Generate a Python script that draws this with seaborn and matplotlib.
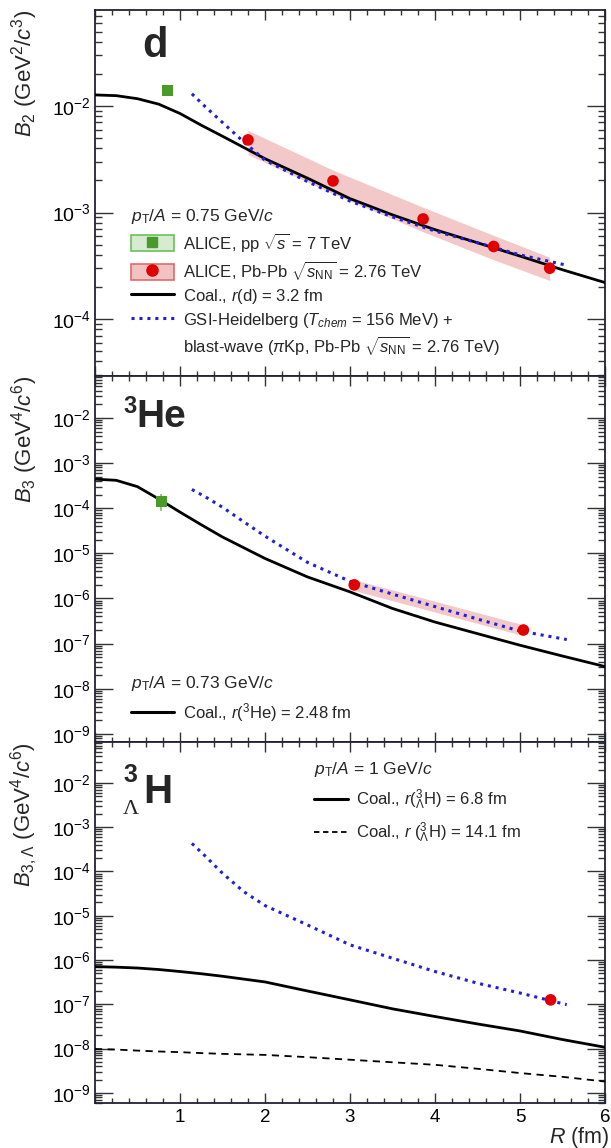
import numpy as np
import pandas as pd
import seaborn as sns
import matplotlib
matplotlib.use('Agg')
import matplotlib.pyplot as plt
from matplotlib.lines import Line2D
from matplotlib.patches import Patch
from matplotlib.ticker import (FixedLocator, MultipleLocator, NullFormatter,
                               LogFormatterSciNotation, FuncFormatter)

# ---- data ----
R_grid = [0, 0.25, 0.5, 0.75, 1.0, 1.25, 1.5, 2.0, 2.5, 3.0, 3.5, 4.0, 4.5, 5.0, 5.5, 6.0]
b2_coal = [1.27e-2, 1.25e-2, 1.17e-2, 1.04e-2, 8.5e-3, 6.6e-3, 5.2e-3, 3.2e-3, 2.1e-3,
           1.35e-3, 9.5e-4, 6.9e-4, 5.2e-4, 3.9e-4, 2.9e-4, 2.2e-4]
b3_coal = [4.4e-4, 4.15e-4, 3.0e-4, 1.6e-4, 8.2e-5, 4.3e-5, 2.3e-5, 7.7e-6, 3.0e-6,
           1.4e-6, 6.0e-7, 3.0e-7, 1.66e-7, 9.2e-8, 5.3e-8, 3.1e-8]
b3l_coal_68 = [7.1e-7, 6.9e-7, 6.6e-7, 6.1e-7, 5.5e-7, 4.9e-7, 4.3e-7, 3.2e-7, 2.0e-7,
               1.26e-7, 7.9e-8, 5.3e-8, 3.6e-8, 2.5e-8, 1.6e-8, 1.07e-8]
b3l_coal_141 = [9.8e-9, 9.5e-9, 9.0e-9, 8.6e-9, 8.3e-9, 7.9e-9, 7.6e-9, 7.2e-9, 6.4e-9,
                5.6e-9, 4.9e-9, 4.3e-9, 3.5e-9, 2.8e-9, 2.3e-9, 1.8e-9]

R_gsi = [1.14, 1.3, 1.5, 1.75, 2.0, 2.5, 3.0, 3.5, 4.0, 4.5, 5.0, 5.55]
b2_gsi = [1.3e-2, 9.8e-3, 7.0e-3, 4.6e-3, 3.1e-3, 1.95e-3, 1.28e-3, 9.1e-4, 6.7e-4, 5.2e-4, 4.0e-4, 3.2e-4]
b3_gsi = [2.6e-4, 1.78e-4, 1.05e-4, 5.0e-5, 2.4e-5, 6.3e-6, 2.4e-6, 1.25e-6, 6.6e-7, 3.5e-7, 1.9e-7, 1.23e-7]
b3l_gsi = [4.3e-4, 2.2e-4, 9.1e-5, 3.5e-5, 1.7e-5, 6.2e-6, 2.2e-6, 1.1e-6, 5.5e-7, 3.0e-7, 1.8e-7, 9.8e-8]

d_pp_R = [0.85]
d_pp_B = [1.4e-2]
d_pb_R = [1.80, 2.80, 3.86, 4.69, 5.35]
d_pb_B = [4.8e-3, 1.98e-3, 8.7e-4, 4.8e-4, 3.0e-4]
d_pb_up = [5.9e-3, 2.5e-3, 1.12e-3, 6.1e-4, 3.8e-4]
d_pb_lo = [3.5e-3, 1.5e-3, 6.6e-4, 3.6e-4, 2.3e-4]

he_pp_R = [0.78]
he_pp_B = [1.4e-4]
he_pp_lo = [8.5e-5]
he_pp_hi = [2.1e-4]
he_pb_R = [3.05, 5.04]
he_pb_B = [2.0e-6, 2.0e-7]
he_pb_up = [2.6e-6, 2.6e-7]
he_pb_lo = [1.5e-6, 1.5e-7]

hl_pb_R = [5.36]
hl_pb_B = [1.26e-7]
hl_pb_lo = [1.0e-7]
hl_pb_hi = [1.6e-7]

RED = '#e00000'
GREEN = '#4a9a2a'
BLUE = '#1f1fd8'
PINK = '#f2c2c2'

sns.set_theme(style='ticks')
plt.rcParams['font.family'] = ['Liberation Sans', 'DejaVu Sans']
plt.rcParams['mathtext.fontset'] = 'custom'
plt.rcParams['mathtext.rm'] = 'Liberation Sans'
plt.rcParams['mathtext.it'] = 'Liberation Sans:italic'
plt.rcParams['mathtext.bf'] = 'Liberation Sans:bold'

fig = plt.figure(figsize=(6.11, 11.48), dpi=100)
W, H = 611, 1148
x0, x1 = 95, 605
panels = [(10, 376), (376, 742), (742, 1103)]
axes = []
for top, bot in panels:
    axes.append(fig.add_axes([x0 / W, (H - bot) / H, (x1 - x0) / W, (bot - top) / H]))
ylims = [(2.92e-5, 0.0796), (6.6e-10, 0.085), (5.9e-10, 0.084)]

for i, ax in enumerate(axes):
    lo, hi = ylims[i]
    ax.set_yscale('log')
    ax.set_xlim(0, 6)
    ax.set_ylim(lo, hi)
    # only ticks inside the visible range
    decades = range(int(np.floor(np.log10(lo))), int(np.ceil(np.log10(hi))) + 1)
    major = [10.0 ** k for k in decades if lo <= 10.0 ** k <= hi]
    minor = [m * 10.0 ** k for k in decades for m in range(2, 10) if lo <= m * 10.0 ** k <= hi]
    ax.yaxis.set_major_locator(FixedLocator(major))
    ax.yaxis.set_minor_locator(FixedLocator(minor))
    ax.yaxis.set_major_formatter(LogFormatterSciNotation())
    ax.yaxis.set_minor_formatter(NullFormatter())
    ax.xaxis.set_major_locator(MultipleLocator(1))
    ax.xaxis.set_minor_locator(MultipleLocator(0.2))
    ax.xaxis.set_major_formatter(FuncFormatter(lambda v, _: '' if abs(v) < 1e-9 else f'{v:g}'))
    ax.tick_params(which='both', direction='in', top=True, right=True, width=1.0, colors='#333333',
                   labelcolor='black')
    ax.tick_params(axis='y', which='major', length=13, labelsize=14, pad=3)
    ax.tick_params(axis='y', which='minor', length=5)
    ax.tick_params(axis='x', which='major', length=7.5, labelsize=13.5, pad=4)
    ax.tick_params(axis='x', which='minor', length=3.6)
    for sp in ax.spines.values():
        sp.set_linewidth(1.3)
        sp.set_color('#222233')
    if i < 2:
        ax.tick_params(axis='x', labelbottom=False)

def curve(ax, R, B, **kw):
    df = pd.DataFrame({'R': R, 'B': B})
    sns.lineplot(data=df, x='R', y='B', ax=ax, legend=False, **kw)

dot_ls = (0, (1, 1.6))

# ---- deuteron ----
ax = axes[0]
ax.fill_between(d_pb_R, d_pb_lo, d_pb_up, color=PINK, lw=0, alpha=0.9, zorder=1)
curve(ax, R_grid, b2_coal, color='black', lw=2.0, zorder=3)
curve(ax, R_gsi, b2_gsi, color=BLUE, lw=2.2, ls=dot_ls, zorder=4)
sns.scatterplot(data=pd.DataFrame({'R': d_pp_R, 'B': d_pp_B}), x='R', y='B', ax=ax,
                marker='s', s=60, color=GREEN, edgecolor='none', zorder=5)
sns.scatterplot(data=pd.DataFrame({'R': d_pb_R, 'B': d_pb_B}), x='R', y='B', ax=ax,
                marker='o', s=70, color=RED, edgecolor='none', zorder=5)
ax.text(0.092, 0.872, 'd', transform=ax.transAxes, fontsize=30, fontweight='bold', ha='left', va='baseline')
h_pp = (Patch(facecolor='#d6ecd0', edgecolor='#6cbf5a', lw=1.2),
        Line2D([], [], marker='s', ms=7.5, color=GREEN, ls='none'))
h_pb = (Patch(facecolor=PINK, edgecolor='#e06a6a', lw=1.2),
        Line2D([], [], marker='o', ms=8, color=RED, ls='none'))
h_coal = Line2D([], [], color='black', lw=2.2)
h_gsi = Line2D([], [], color=BLUE, lw=2.2, ls=dot_ls)
h_none = Line2D([], [], ls='none')
ax.legend([h_pp, h_pb, h_coal, h_gsi, h_none],
          [r'ALICE, pp $\sqrt{s}$ = 7 TeV',
           r'ALICE, Pb-Pb $\sqrt{s_{\rm NN}}$ = 2.76 TeV',
           r'Coal., $r$(d) = 3.2 fm',
           r'GSI-Heidelberg ($T_{chem}$ = 156 MeV) +',
           r'blast-wave ($\pi$Kp, Pb-Pb $\sqrt{s_{\rm NN}}$ = 2.76 TeV)'],
          title=r'$p_{\rm T}/A$ = 0.75 GeV/$c$', title_fontsize=12.5, alignment='left',
          loc='upper left', bbox_to_anchor=(0.07, 0.462), frameon=False, fontsize=12,
          handlelength=2.6, handleheight=1.1, handletextpad=0.55, labelspacing=0.3,
          borderpad=0, borderaxespad=0)
ax.set_ylabel(r'$B_2$ (GeV$^2$/$c^3$)', fontsize=16, loc='top')

# ---- 3He ----
ax = axes[1]
ax.fill_between(he_pb_R, he_pb_lo, he_pb_up, color=PINK, lw=0, alpha=0.9, zorder=1)
curve(ax, R_grid, b3_coal, color='black', lw=2.0, zorder=3)
curve(ax, R_gsi, b3_gsi, color=BLUE, lw=2.2, ls=dot_ls, zorder=4)
ax.errorbar(he_pp_R, he_pp_B,
            yerr=[np.array(he_pp_B) - np.array(he_pp_lo), np.array(he_pp_hi) - np.array(he_pp_B)],
            fmt='none', ecolor='#7cc46a', elinewidth=1.2, zorder=4)
sns.scatterplot(data=pd.DataFrame({'R': he_pp_R, 'B': he_pp_B}), x='R', y='B', ax=ax,
                marker='s', s=60, color=GREEN, edgecolor='none', zorder=5)
sns.scatterplot(data=pd.DataFrame({'R': he_pb_R, 'B': he_pb_B}), x='R', y='B', ax=ax,
                marker='o', s=70, color=RED, edgecolor='none', zorder=5)
ax.text(0.055, 0.90, '3', transform=ax.transAxes, fontsize=17, fontweight='bold', ha='left', va='baseline')
ax.text(0.082, 0.861, 'He', transform=ax.transAxes, fontsize=28, fontweight='bold', ha='left', va='baseline')
ax.legend([h_coal], [r'Coal., $r$($^{3}$He) = 2.48 fm'],
          title=r'$p_{\rm T}/A$ = 0.73 GeV/$c$', title_fontsize=12.5, alignment='left',
          loc='upper left', bbox_to_anchor=(0.07, 0.185), frameon=False, fontsize=12,
          handlelength=2.6, handletextpad=0.55, labelspacing=0.45, borderpad=0, borderaxespad=0)
ax.set_ylabel(r'$B_3$ (GeV$^4$/$c^6$)', fontsize=16, loc='top')

# ---- hypertriton ----
ax = axes[2]
curve(ax, R_grid, b3l_coal_68, color='black', lw=2.0, zorder=3)
curve(ax, R_grid, b3l_coal_141, color='black', lw=1.3, ls=(0, (4, 3)), zorder=3)
curve(ax, R_gsi, b3l_gsi, color=BLUE, lw=2.2, ls=dot_ls, zorder=4)
ax.errorbar(hl_pb_R, hl_pb_B,
            yerr=[np.array(hl_pb_B) - np.array(hl_pb_lo), np.array(hl_pb_hi) - np.array(hl_pb_B)],
            fmt='none', ecolor=RED, elinewidth=1.2, zorder=4)
sns.scatterplot(data=pd.DataFrame({'R': hl_pb_R, 'B': hl_pb_B}), x='R', y='B', ax=ax,
                marker='o', s=70, color=RED, edgecolor='none', zorder=5)
ax.text(0.055, 0.889, '3', transform=ax.transAxes, fontsize=18, fontweight='bold', ha='left', va='baseline')
ax.text(0.055, 0.80, '\u039b', transform=ax.transAxes, fontsize=16, family='Liberation Serif',
        ha='left', va='baseline')
ax.text(0.094, 0.831, 'H', transform=ax.transAxes, fontsize=29, fontweight='bold', ha='left', va='baseline')
h_dash = Line2D([], [], color='black', lw=1.3, ls=(0, (3, 2)))
ax.legend([h_coal, h_dash],
          [r'Coal., $r$($^{3}_{\Lambda}$H) = 6.8 fm', r'Coal., $r$ ($^{3}_{\Lambda}$H) = 14.1 fm'],
          title=r'$p_{\rm T}/A$ = 1 GeV/$c$', title_fontsize=12.5, alignment='left',
          loc='upper left', bbox_to_anchor=(0.43, 0.95), frameon=False, fontsize=12,
          handlelength=2.0, handletextpad=0.5, labelspacing=0.5, borderpad=0, borderaxespad=0)
ax.set_ylabel(r'$B_{3,\Lambda}$ (GeV$^4$/$c^6$)', fontsize=16, loc='top')
ax.set_xlabel(r'$R$ (fm)', fontsize=15.5, loc='right')
ax.xaxis.set_label_coords(1.008, -0.06)

for ax in axes:
    ax.yaxis.set_label_coords(-0.108, 1.0)
    if ax is not axes[2]:
        ax.set_xlabel('')

fig.savefig('out.png', dpi=100)
